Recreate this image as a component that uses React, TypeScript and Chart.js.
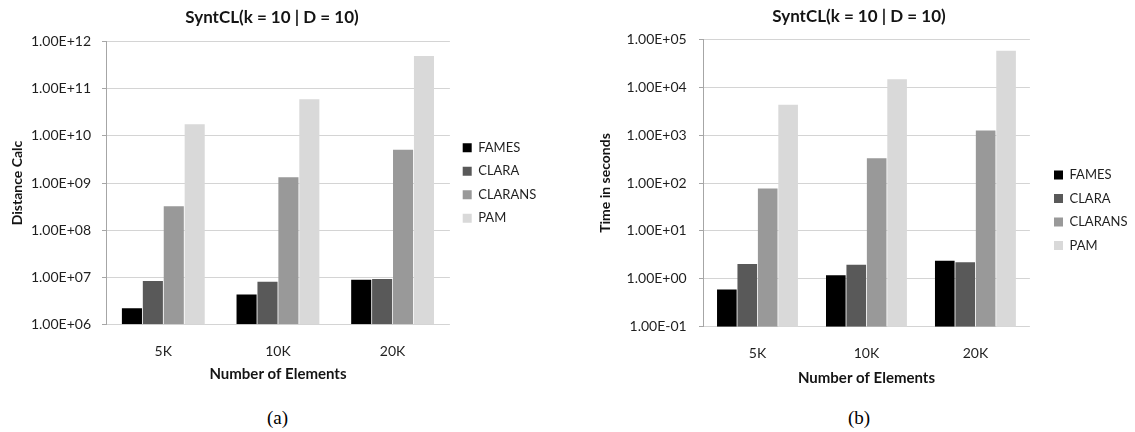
import React, { useEffect, useRef } from 'react';
import { Chart, registerables } from 'chart.js';

Chart.register(...registerables);

// ---------- data ----------
const categories = ['5K', '10K', '20K'];
const seriesNames = ['FAMES', 'CLARA', 'CLARANS', 'PAM'];
const seriesColors = ['#000000', '#595959', '#999999', '#d9d9d9'];

// (a) distance calculations
const distFAMES = [2.2e6, 4.3e6, 8.85e6];
const distCLARA = [8.3e6, 8.0e6, 9.2e6];
const distCLARANS = [3.2e8, 1.32e9, 5.1e9];
const distPAM = [1.76e10, 6.0e10, 5.0e11];
const distTicks = [1e6, 1e7, 1e8, 1e9, 1e10, 1e11, 1e12];
const distTickLabels = ['1.00E+06', '1.00E+07', '1.00E+08', '1.00E+09', '1.00E+10', '1.00E+11', '1.00E+12'];

// (b) time in seconds
const timeFAMES = [0.6, 1.18, 2.39];
const timeCLARA = [2.03, 1.97, 2.21];
const timeCLARANS = [77, 328, 1250];
const timePAM = [4300, 14600, 57500];
const timeTicks = [0.1, 1, 10, 100, 1000, 10000, 100000];
const timeTickLabels = ['1.00E-01', '1.00E+00', '1.00E+01', '1.00E+02', '1.00E+03', '1.00E+04', '1.00E+05'];

const FONT = 'Lato, "Open Sans", sans-serif';
const TXT = '#1f1f1f';

type Cfg = {
  series: number[][];
  ticks: number[];
  tickLabels: string[];
  yTitle: string;
  width: number;
  height: number;
  yAxisWidth: number;
  yTickPad: number;
  yTitlePad: number;
  xTickPad: number;
  xAxisHeight: number;
  xTitlePadBottom: number;
  titlePad: { top: number; bottom: number };
  titleX: number;
  legendBoxX: number;
  legendFirstY: number;
  padRight: number;
  catPct: number;
};

function placement(cfg: Cfg) {
  return {
    id: 'placement',
    afterLayout(chart: any) {
      const t = chart.titleBlock;
      if (t) {
        const d = cfg.titleX - (t.left + t.right) / 2;
        t.left += d;
        t.right += d;
      }
      const lg = chart.legend;
      if (lg) {
        const pad = lg.options.labels.padding;
        const w = lg.width;
        const h = lg.height;
        lg.left = cfg.legendBoxX - pad;
        lg.right = lg.left + w;
        lg.top = cfg.legendFirstY - 6.5 - pad;
        lg.bottom = lg.top + h;
      }
    },
  };
}

function BarChart({ cfg }: { cfg: Cfg }) {
  const ref = useRef<HTMLCanvasElement>(null);
  useEffect(() => {
    if (!ref.current) return;
    const chart = new Chart(ref.current, {
      type: 'bar',
      data: {
        labels: categories,
        datasets: seriesNames.map((name, i) => ({
          label: name,
          data: cfg.series[i],
          backgroundColor: seriesColors[i],
          borderWidth: 0,
          barPercentage: 0.96,
          categoryPercentage: cfg.catPct,
        })),
      },
      options: {
        responsive: false,
        maintainAspectRatio: false,
        animation: false,
        devicePixelRatio: 1,
        layout: { padding: { left: 0, right: cfg.padRight, top: 0, bottom: 0 } },
        plugins: {
          title: {
            display: true,
            text: 'SyntCL(k = 10 | D = 10)',
            font: { family: FONT, size: 17, weight: 'bold' },
            color: '#141414',
            padding: cfg.titlePad,
          },
          legend: {
            position: 'right',
            align: 'start',
            fullSize: false,
            labels: {
              boxWidth: 9,
              boxHeight: 9,
              padding: 10.5,
              font: { family: FONT, size: 13 },
              color: TXT,
            },
          },
          tooltip: { enabled: false },
        },
        scales: {
          x: {
            grid: { display: false, drawTicks: false },
            border: { display: false },
            ticks: { padding: cfg.xTickPad, font: { family: FONT, size: 14 }, color: TXT },
            afterFit: (s: any) => {
              s.height = cfg.xAxisHeight;
            },
            title: {
              display: true,
              text: 'Number of Elements',
              font: { family: FONT, size: 15, weight: 'bold' },
              color: '#141414',
              padding: { top: 0, bottom: cfg.xTitlePadBottom },
            },
          },
          y: {
            type: 'logarithmic',
            min: cfg.ticks[0],
            max: cfg.ticks[cfg.ticks.length - 1],
            afterBuildTicks: (s: any) => {
              s.ticks = cfg.ticks.map((v) => ({ value: v }));
            },
            afterFit: (s: any) => {
              s.width = cfg.yAxisWidth;
            },
            ticks: {
              autoSkip: false,
              padding: cfg.yTickPad,
              font: { family: FONT, size: 14 },
              color: TXT,
              callback: (_v: any, i: number) => cfg.tickLabels[i],
            },
            grid: { color: '#d4d4d4', tickColor: '#a6a6a6', tickLength: 4, drawTicks: true },
            border: { color: '#a6a6a6' },
            title: {
              display: true,
              text: cfg.yTitle,
              font: { family: FONT, size: 14, weight: 'bold' },
              color: '#141414',
              padding: { top: cfg.yTitlePad, bottom: 0 },
            },
          },
        },
      },
      plugins: [placement(cfg)],
    } as any);
    return () => chart.destroy();
  }, [cfg]);
  return <canvas ref={ref} width={cfg.width} height={cfg.height} style={{ display: 'block' }} />;
}

const cfgA: Cfg = {
  series: [distFAMES, distCLARA, distCLARANS, distPAM],
  ticks: distTicks,
  tickLabels: distTickLabels,
  yTitle: 'Distance Calc',
  width: 560,
  height: 390,
  yAxisWidth: 106,
  yTickPad: 11,
  yTitlePad: 9.3,
  xTickPad: 19,
  xAxisHeight: 65.7,
  xTitlePadBottom: 6.5,
  titlePad: { top: 7.8, bottom: 13.5 },
  titleX: 272,
  legendBoxX: 462.7,
  legendFirstY: 147.7,
  padRight: 16,
  catPct: 0.73,
};

const cfgB: Cfg = {
  series: [timeFAMES, timeCLARA, timeCLARANS, timePAM],
  ticks: timeTicks,
  tickLabels: timeTickLabels,
  yTitle: 'Time in seconds',
  width: 555,
  height: 390,
  yAxisWidth: 123,
  yTickPad: 12.3,
  yTitlePad: 16.6,
  xTickPad: 17.9,
  xAxisHeight: 63.3,
  xTitlePadBottom: 3,
  titlePad: { top: 6.5, bottom: 12.4 },
  titleX: 279,
  legendBoxX: 474,
  legendFirstY: 175,
  padRight: 11,
  catPct: 0.75,
};

const captionStyle = (cx: number): React.CSSProperties => ({
  position: 'absolute',
  left: cx - 40,
  top: 418 - 12,
  width: 80,
  height: 24,
  lineHeight: '24px',
  textAlign: 'center',
  fontFamily: '"Liberation Serif", "DejaVu Serif", serif',
  fontSize: 19,
  color: '#000',
});

export default function App() {
  return (
    <div>
      <div style={{ position: 'absolute', left: 0, top: 0 }}>
        <BarChart cfg={cfgA} />
      </div>
      <div style={{ position: 'absolute', left: 580, top: 0 }}>
        <BarChart cfg={cfgB} />
      </div>
      <div style={captionStyle(277.5)}>(a)</div>
      <div style={captionStyle(859)}>(b)</div>
    </div>
  );
}
